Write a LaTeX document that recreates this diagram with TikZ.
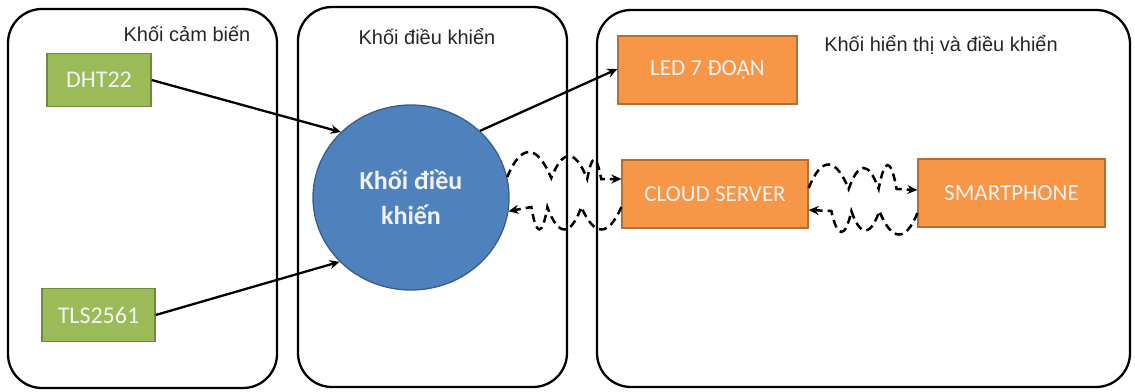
\documentclass[tikz,border=0pt]{standalone}
\usepackage{fontspec}
\setmainfont{Liberation Sans}
\newfontfamily\calib{Carlito}
\usetikzlibrary{shapes.geometric,arrows.meta,calc}
\definecolor{greenfill}{HTML}{9BBB59}
\definecolor{greenedge}{HTML}{71893F}
\definecolor{orangefill}{HTML}{F79646}
\definecolor{orangeedge}{HTML}{B66D31}
\definecolor{bluefill}{HTML}{4F81BD}
\definecolor{blueedge}{HTML}{385D8A}
\tikzset{
  container/.style={draw=black, line width=2.3pt, rounded corners=34pt},
  grp/.style={font=\fontsize{20}{24}\selectfont, text=black!85, inner sep=0},
  green box/.style={draw=greenedge, fill=greenfill, line width=1.3pt, text=white!95!black, font=\calib\fontsize{24}{28}\selectfont, inner sep=0},
  orange box/.style={draw=orangeedge, fill=orangefill, line width=1.3pt, text=white!95!black, font=\calib\fontsize{23}{27}\selectfont, inner sep=0},
  arr/.style={line width=2.3pt, -{Stealth[length=10pt,width=9pt]}},
  wave/.style={line width=2.5pt, dash pattern=on 8pt off 5pt, -{Stealth[length=10pt,width=9pt]}}
}
\begin{document}
\begin{tikzpicture}[x=1pt,y=-1pt]
\useasboundingbox (0,0) rectangle (1135,391);
% containers
\draw[container] (8,9) rectangle (277,388);
\draw[container] (298,7) rectangle (567,387);
\draw[container] (597,10) rectangle (1130,387);
% group labels
\node[grp] (lsens) at (187,34) {Khối cảm biến};
\node[grp] (lctrl) at (427,37) {Khối điều khiển};
\node[grp] (ldisp) at (941,45) {Khối hiển thị và điều khiển};
% sensors
\node[green box, minimum width=104pt, minimum height=53pt] (dht) at (99,80) {DHT22};
\node[green box, minimum width=113pt, minimum height=53pt] (tls) at (98.5,315) {TLS2561};
% controller
\node[ellipse, draw=blueedge, fill=bluefill, line width=1.3pt, minimum width=196pt, minimum height=185pt, inner sep=0, text=white!95!black, align=center, font=\calib\bfseries\fontsize{26}{35}\selectfont] (ctrl) at (411,197.5) {Khối điều\\khiến};
% outputs
\node[orange box, minimum width=179pt, minimum height=68pt] (led) at (707.5,70) {LED 7 ĐOẠN};
\node[orange box, minimum width=186pt, minimum height=68pt] (cloud) at (715,194) {CLOUD SERVER};
\node[orange box, minimum width=187pt, minimum height=68pt] (phone) at (1011.5,193) {SMARTPHONE};
% arrows
\draw[arr] (dht.east) -- (ctrl.137);
\draw[arr] (tls.east) -- (ctrl.222);
\draw[arr] (ctrl.44) -- ([yshift=1pt]led.west);
% wavy links
\coordinate (a0) at (ctrl.12);
\coordinate (b0) at ([yshift=-13pt]cloud.west);
\coordinate (c0) at ([yshift=6pt]cloud.east);
\coordinate (d0) at ([yshift=-20pt]phone.west);
\draw[wave] (a0)
  .. controls ($(a0)+(14,-34)$) and ($(a0)+(30,-33)$) .. ($(a0)+(44,1)$)
  .. controls ($(a0)+(56,-29)$) and ($(a0)+(68,-28)$) .. ($(a0)+(80,2)$)
  .. controls ($(a0)+(85,-24)$) and ($(a0)+(89,-24)$) .. ($(a0)+(94,2)$)
  -- ([yshift=15pt]cloud.west);
\draw[wave] (b0)
  .. controls ($(b0)+(-13,30)$) and ($(b0)+(-27,30)$) .. ($(b0)+(-40,0)$)
  .. controls ($(b0)+(-51,30)$) and ($(b0)+(-63,30)$) .. ($(b0)+(-74,0)$)
  .. controls ($(b0)+(-79,30)$) and ($(b0)+(-85,30)$) .. ($(b0)+(-90,0)$)
  -- (ctrl.-8);
\draw[wave] (c0)
  .. controls ($(c0)+(13,-32)$) and ($(c0)+(27,-31)$) .. ($(c0)+(40,1)$)
  .. controls ($(c0)+(50,-27)$) and ($(c0)+(60,-27)$) .. ($(c0)+(70,1)$)
  .. controls ($(c0)+(76,-31)$) and ($(c0)+(82,-31)$) .. ($(c0)+(88,1)$)
  -- ([yshift=3pt]phone.west);
\draw[wave] (d0)
  .. controls ($(d0)+(-12,30)$) and ($(d0)+(-26,28)$) .. ($(d0)+(-38,-2)$)
  .. controls ($(d0)+(-47,24)$) and ($(d0)+(-57,24)$) .. ($(d0)+(-66,-2)$)
  .. controls ($(d0)+(-72,26)$) and ($(d0)+(-80,26)$) .. ($(d0)+(-86,-2)$)
  -- ([yshift=-16pt]cloud.east);
\end{tikzpicture}
\end{document}
